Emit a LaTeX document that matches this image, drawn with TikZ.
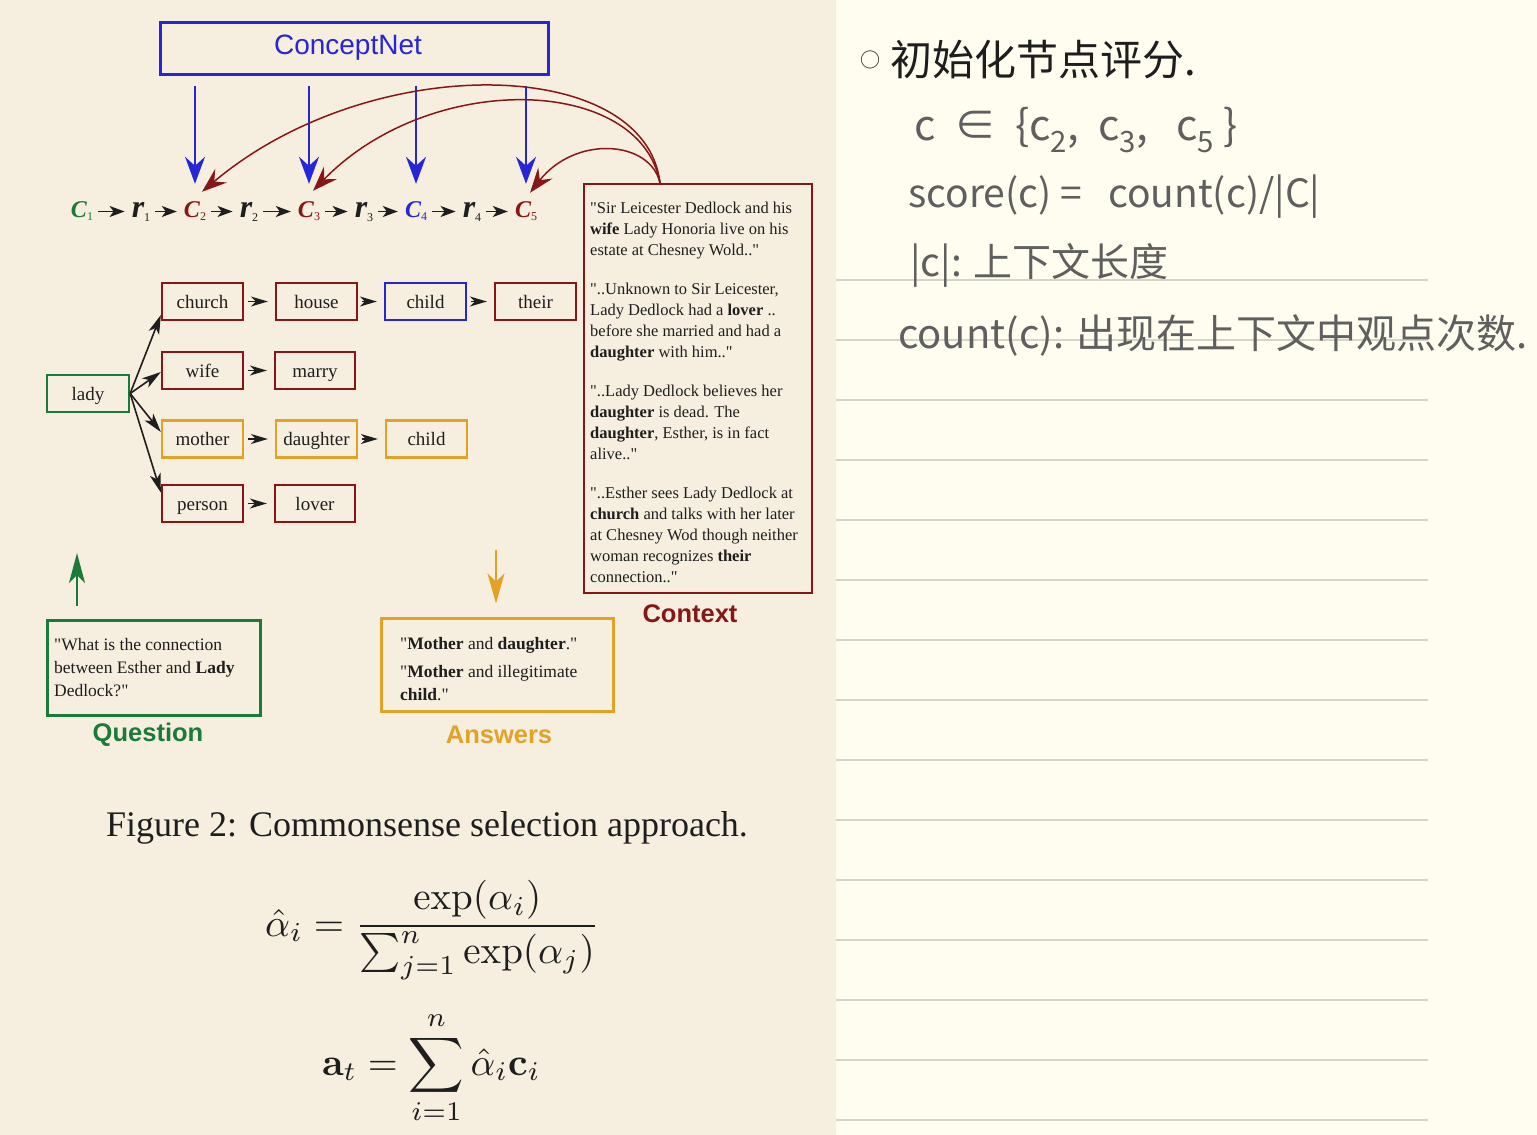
\documentclass[tikz,border=0pt]{standalone}
\usepackage{amsmath}
\usepackage[no-math]{fontspec}
\setmainfont{Liberation Serif}[Ligatures=TeXOff]
\setsansfont{Liberation Sans}
\newfontfamily\cjk{Noto Sans CJK SC}
\usetikzlibrary{arrows.meta}
\definecolor{bgL}{RGB}{246,239,223}
\definecolor{bgR}{RGB}{255,253,240}
\definecolor{ruleC}{RGB}{214,211,199}
\definecolor{dred}{RGB}{135,22,22}
\definecolor{cblue}{RGB}{38,38,214}
\definecolor{cgreen}{RGB}{28,122,56}
\definecolor{corange}{RGB}{226,162,40}
\definecolor{ink}{RGB}{30,30,30}
\definecolor{pencil}{RGB}{95,95,95}
\newcommand{\csubC}[2]{#1\raisebox{-3pt}{\fontsize{12}{12}\selectfont\mdseries\upshape #2}}
\newcommand{\csubR}[2]{#1\raisebox{-4pt}{\fontsize{12}{12}\selectfont\mdseries\upshape #2}}
\begin{document}
\begin{tikzpicture}[x=1pt,y=-1pt,
  tbox/.style={draw, line width=2.3pt, minimum width=81pt, minimum height=37pt, inner sep=0pt,
    text height=14.5pt, text depth=1.5pt, font=\fontsize{19}{22}\selectfont, text=ink},
  cch/.style={anchor=base, inner sep=2pt, text height=15pt, text depth=4pt,
    font=\fontsize{24}{26}\selectfont\bfseries\itshape},
  rch/.style={anchor=base, inner sep=2pt, text height=15pt, text depth=4pt,
    font=\fontsize{32}{34}\selectfont\bfseries\itshape, text=ink},
  charrow/.style={draw=ink, line width=1.7pt, -{Stealth[length=15pt,width=11pt,inset=4pt]},
    shorten <=3pt, shorten >=5pt},
  barrow/.style={draw=cblue, line width=1.7pt, -{Stealth[length=27pt,width=20pt,inset=9pt]},
    shorten <=10pt, shorten >=16pt},
  rarrow/.style={draw=dred, line width=1.5pt, -{Stealth[length=25pt,width=18pt,inset=9pt]}},
  tarrow/.style={draw=ink, line width=1.6pt, -{Stealth[length=19pt,width=11pt,inset=5pt]}},
  harrow/.style={draw=ink, line width=1.6pt, -{Stealth[length=17pt,width=10pt,inset=5pt]},
    shorten <=4pt, shorten >=7pt},
  lab/.style={font=\sffamily\bfseries\fontsize{25.5}{28}\selectfont},
  hand/.style={anchor=west, inner sep=0pt, text=pencil, font=\cjk\fontsize{39}{42}\selectfont}
]
\useasboundingbox (0,0) rectangle (1537,1135);
\fill[bgL] (0,0) rectangle (836,1135);
\fill[bgR] (836,0) rectangle (1537,1135);
\foreach \yy in {280,340,...,1120} \draw[ruleC, line width=1.8pt] (836,\yy) -- (1428,\yy);

% ConceptNet
\node[draw=cblue, line width=3pt, minimum width=388pt, minimum height=52pt, inner sep=0pt,
  text=cblue, font=\sffamily\fontsize{28}{30}\selectfont] (cnet) at (354,48) {ConceptNet\kern12pt};

% chain
\node[cch, text=cgreen] (c1) at (82,217) {\csubC{C}{1}};
\node[rch] (r1) at (141,217) {\csubR{r}{1}};
\node[cch, text=dred] (c2) at (195,217) {\csubC{C}{2}};
\node[rch] (r2) at (249,217) {\csubR{r}{2}};
\node[cch, text=dred] (c3) at (309,217) {\csubC{C}{3}};
\node[rch] (r3) at (364,217) {\csubR{r}{3}};
\node[cch, text=cblue] (c4) at (416,217) {\csubC{C}{4}};
\node[rch] (r4) at (472,217) {\csubR{r}{4}};
\node[cch, text=dred] (c5) at (526,217) {\csubC{C}{5}};
\draw[charrow] (c1) -- (r1);
\draw[charrow] (r1) -- (c2);
\draw[charrow] (c2) -- (r2);
\draw[charrow] (r2) -- (c3);
\draw[charrow] (c3) -- (r3);
\draw[charrow] (r3) -- (c4);
\draw[charrow] (c4) -- (r4);
\draw[charrow] (r4) -- (c5);

\draw[barrow] (cnet.south -| c2) -- (c2.north);
\draw[barrow] (cnet.south -| c3) -- (c3.north);
\draw[barrow] (cnet.south -| c4) -- (c4.north);
\draw[barrow] (cnet.south -| c5) -- (c5.north);

% context
\node[draw=dred, line width=2.3pt, minimum width=228pt, minimum height=409pt, inner sep=0pt] (ctx) at (698,388.5) {};
\node[anchor=north west, inner sep=0pt, align=left, text=ink, font=\fontsize{16.5}{21}\selectfont] (ctxtext) at (590,201.5) {%
"Sir Leicester Dedlock and his\\
\textbf{wife} Lady Honoria live on his\\
estate at Chesney Wold.."\\[18pt]
"..Unknown to Sir Leicester,\\
Lady Dedlock had a \textbf{lover} ..\\
before she married and had a\\
\textbf{daughter} with him.."\\[18pt]
"..Lady Dedlock believes her\\
\textbf{daughter} is dead. The\\
\textbf{daughter}, Esther, is in fact\\
alive.."\\[18pt]
"..Esther sees Lady Dedlock at\\
\textbf{church} and talks with her later\\
at Chesney Wod though neither\\
woman recognizes \textbf{their}\\
connection.."};
\node[lab, text=dred] (ctxlab) at (690,614) {Context};

\coordinate (cs) at ([xshift=-38pt]ctx.north);
\draw[rarrow] (cs) .. controls (645,55) and (370,50) .. ([xshift=7pt,yshift=8pt]c2.north);
\draw[rarrow] (cs) .. controls (640,75) and (430,70) .. ([xshift=4pt,yshift=9pt]c3.north);
\draw[rarrow] (cs) .. controls (650,140) and (575,135) .. ([xshift=4pt,yshift=7pt]c5.north);

% tree
\node[tbox, draw=cgreen, minimum width=82pt] (lady) at (88,393.5) {lady};
\node[tbox, draw=dred] (church) at (202.5,301.5) {church};
\node[tbox, draw=dred] (house) at (316.5,301.5) {house};
\node[tbox, draw=cblue] (childA) at (425.5,301.5) {child};
\node[tbox, draw=dred] (their) at (535.5,301.5) {their};
\node[tbox, draw=dred] (wife) at (202.5,370.5) {wife};
\node[tbox, draw=dred, minimum width=80pt] (marry) at (315,370.5) {marry};
\node[tbox, draw=corange] (mother) at (202.5,439) {mother};
\node[tbox, draw=corange] (daughter) at (316.5,439) {daughter};
\node[tbox, draw=corange] (childB) at (426.5,439) {child};
\node[tbox, draw=dred] (person) at (202.5,503.5) {person};
\node[tbox, draw=dred, minimum width=80pt] (lover) at (315,503.5) {lover};

\draw[tarrow] (lady.east) -- ([yshift=-13.5pt]church.west);
\draw[tarrow] (lady.east) -- ([yshift=-1.5pt]wife.west);
\draw[tarrow] (lady.east) -- ([yshift=7pt]mother.west);
\draw[tarrow] (lady.east) -- ([yshift=11pt]person.west);
\draw[harrow] (church) -- (house);
\draw[harrow] (house) -- (childA);
\draw[harrow] (childA) -- (their);
\draw[harrow] (wife) -- (marry);
\draw[harrow] (mother) -- (daughter);
\draw[harrow] (daughter) -- (childB);
\draw[harrow] (person) -- (lover);

% question
\node[draw=cgreen, line width=3pt, minimum width=213pt, minimum height=95pt, inner sep=0pt] (qbox) at (153.5,667.5) {};
\node[anchor=north west, inner sep=0pt, align=left, text=ink, font=\fontsize{17.5}{23}\selectfont] (qtext) at (54,638) {%
"What is the connection\\
between Esther and \textbf{Lady}\\
Dedlock?"};
\node[lab, text=cgreen] (qlab) at (148,735) {Question};
\coordinate (gtip) at (77,553);
\draw[draw=cgreen, line width=2.5pt, -{Stealth[length=30pt,width=16pt,inset=8pt]}, shorten <=13pt] (qbox.north -| gtip) -- (gtip);

% answers
\node[draw=corange, line width=3pt, minimum width=232pt, minimum height=93pt, inner sep=0pt] (abox) at (497,664.5) {};
\node[anchor=north west, inner sep=0pt, align=left, text=ink, font=\fontsize{17.5}{23}\selectfont] (atext) at (400,637) {%
"\textbf{Mother} and \textbf{daughter}."\\[5pt]
"\textbf{Mother} and illegitimate\\
\textbf{child}."};
\node[lab, text=corange] (alab) at (499,735) {Answers};
\coordinate (otail) at (496,550);
\draw[draw=corange, line width=2.5pt, -{Stealth[length=30pt,width=17pt,inset=8pt]}, shorten >=13pt] (otail) -- (abox.north -| otail);

% caption and equations
\node[anchor=base, inner sep=0pt, text=ink, font=\fontsize{36}{40}\selectfont] (cap) at (427,836) {Figure 2: Commonsense selection approach.};
\node[anchor=base west, inner sep=0pt, text=ink] (eq1) at (265,936)
  {\scalebox{3.9}{$\displaystyle \hat{\alpha}_i = \frac{\exp(\alpha_i)}{\sum_{j=1}^{n}\exp(\alpha_j)}$}};
\node[anchor=base west, inner sep=0pt, text=ink] (eq2) at (322,1075)
  {\scalebox{3.85}{$\displaystyle \mathbf{a}_t = \sum_{i=1}^{n}\hat{\alpha}_i\mathbf{c}_i$}};

% handwritten notes
\node[hand, text=ink, font=\cjk\fontsize{20}{20}\selectfont] (hb) at (860,60) {○};
\node[hand, text=ink, font=\cjk\fontsize{42}{44}\selectfont] (h1) at (890,60) {初始化节点评分.};
\node[hand, font=\cjk\fontsize{42}{44}\selectfont] (h2) at (914,130) {c\ \ ∈\ \ \{c\textsubscript{2},\ \ c\textsubscript{3},\ \ \ c\textsubscript{5}\ \}};
\node[hand] (h3) at (908,197) {score(c) =\ \ \ count(c)/|C|};
\node[hand] (h4) at (910,265) {|c|: 上下文长度};
\node[hand, font=\cjk\fontsize{40}{42}\selectfont] (h5) at (898,335) {count(c): 出现在上下文中观点次数.};
\end{tikzpicture}
\end{document}
